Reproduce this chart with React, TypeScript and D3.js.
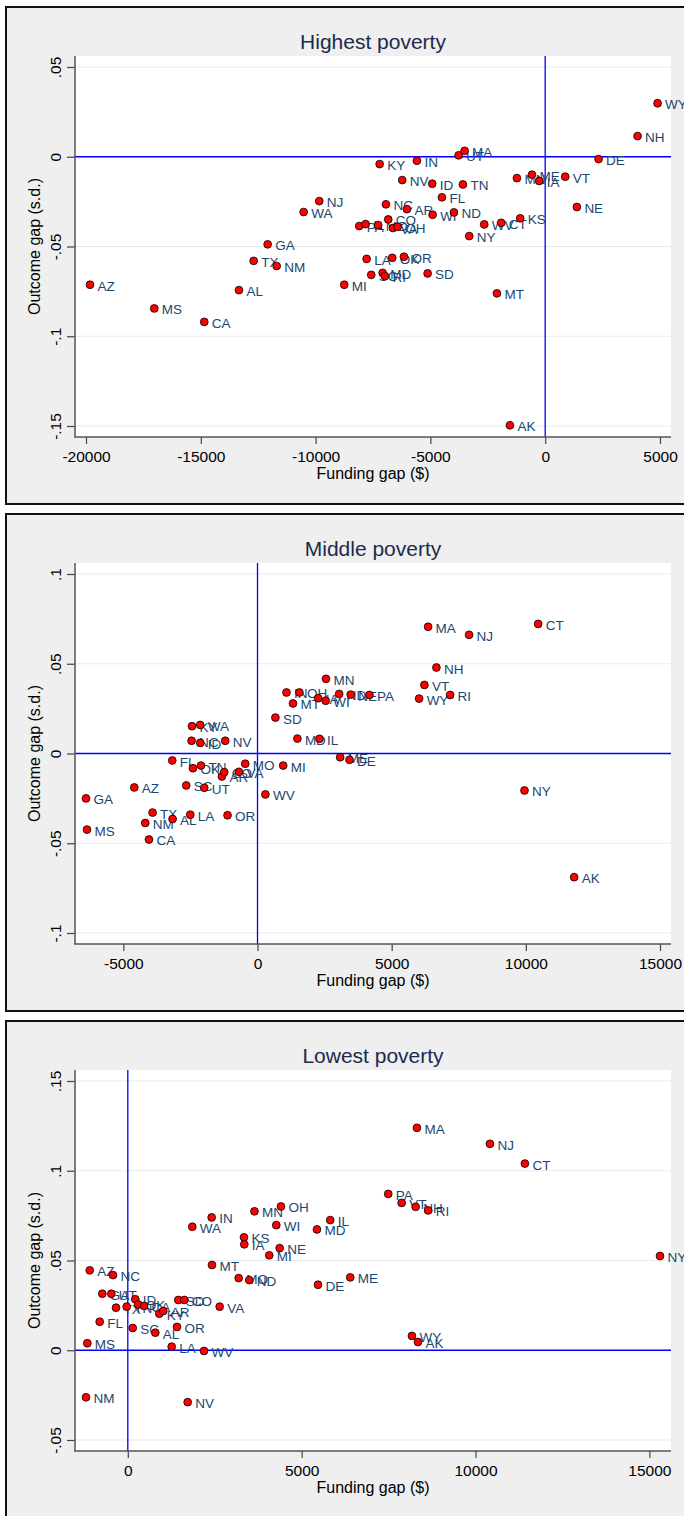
import React, { useEffect, useRef } from 'react';
import * as d3 from 'd3';

// Highest poverty panel
const highStates = ['AZ', 'MS', 'CA', 'AL', 'TX', 'GA', 'NM', 'WA', 'NJ', 'MI', 'PA', 'IL', 'LA', 'SC', 'MO', 'KY', 'MD', 'RI', 'NC', 'CO', 'OK', 'VA', 'OH', 'NV', 'OR', 'AR', 'IN', 'SD', 'ID', 'WI', 'FL', 'ND', 'UT', 'TN', 'MA', 'NY', 'WV', 'MT', 'CT', 'AK', 'MN', 'KS', 'ME', 'IA', 'VT', 'NE', 'DE', 'NH', 'WY'];
const highFunding = [-19826, -17026, -14849, -13338, -12697, -12088, -11696, -10520, -9841, -8752, -8099, -7821, -7777, -7577, -7272, -7211, -7080, -6980, -6937, -6836, -6662, -6632, -6427, -6227, -6153, -6022, -5587, -5121, -4920, -4903, -4498, -3976, -3771, -3584, -3510, -3309, -2656, -2103, -1916, -1537, -1232, -1089, -579, -261, 871, 1380, 2325, 4023, 4894];
const highOutcome = [-0.0713, -0.0845, -0.092, -0.0743, -0.058, -0.0488, -0.0609, -0.0308, -0.0247, -0.0713, -0.0386, -0.0375, -0.0569, -0.0658, -0.0381, -0.0041, -0.0647, -0.0665, -0.0265, -0.0349, -0.0563, -0.0397, -0.039, -0.013, -0.0557, -0.0292, -0.0022, -0.065, -0.015, -0.0323, -0.0226, -0.031, 0.0008, -0.0154, 0.0033, -0.0442, -0.0377, -0.0761, -0.0368, -0.1496, -0.0119, -0.0343, -0.01, -0.0135, -0.0111, -0.028, -0.0013, 0.0115, 0.0298];
const highXTicks = [-20000, -15000, -10000, -5000, 0, 5000];
const highYTicks = [0.05, 0, -0.05, -0.1, -0.15];

// Middle poverty panel
const midStates = ['GA', 'MS', 'AZ', 'NM', 'CA', 'TX', 'FL', 'AL', 'SC', 'LA', 'NC', 'KY', 'OK', 'WA', 'ID', 'TN', 'UT', 'AR', 'CO', 'NV', 'OR', 'VA', 'MO', 'WV', 'SD', 'MI', 'IN', 'MT', 'MD', 'OH', 'IA', 'IL', 'WI', 'MN', 'ND', 'ME', 'DE', 'NE', 'PA', 'WY', 'VT', 'MA', 'NH', 'RI', 'NJ', 'NY', 'CT', 'AK'];
const midFunding = [-6392, -6355, -4593, -4183, -4045, -3911, -3177, -3166, -2656, -2507, -2458, -2443, -2406, -2134, -2134, -2108, -1985, -1326, -1240, -1203, -1117, -693, -458, 294, 667, 957, 1080, 1322, 1486, 1561, 2261, 2309, 2540, 2552, 3043, 3080, 3427, 3472, 4172, 6023, 6220, 6358, 6667, 7178, 7885, 9950, 10459, 11800];
const midOutcome = [-0.025, -0.0424, -0.0189, -0.0387, -0.0479, -0.0329, -0.0039, -0.0365, -0.0178, -0.0341, 0.0071, 0.0152, -0.0082, 0.0159, 0.0059, -0.0067, -0.0191, -0.0128, -0.0104, 0.0071, -0.0344, -0.0102, -0.0057, -0.0228, 0.02, -0.0067, 0.034, 0.0279, 0.0083, 0.034, 0.0308, 0.0082, 0.0294, 0.0416, 0.0332, -0.0021, -0.0035, 0.0328, 0.0326, 0.0306, 0.0382, 0.0706, 0.0479, 0.0326, 0.0661, -0.0206, 0.0722, -0.0689];
const midXTicks = [-5000, 0, 5000, 10000, 15000];
const midYTicks = [0.1, 0.05, 0, -0.05, -0.1];

// Lowest poverty panel
const lowStates = ['NM', 'MS', 'AZ', 'FL', 'GA', 'UT', 'NC', 'TX', 'TN', 'SC', 'ID', 'OK', 'CA', 'AL', 'KY', 'AR', 'LA', 'OR', 'SD', 'CO', 'NV', 'WA', 'WV', 'IN', 'MT', 'VA', 'MO', 'KS', 'IA', 'ND', 'MN', 'MI', 'WI', 'NE', 'OH', 'MD', 'DE', 'IL', 'ME', 'PA', 'VT', 'WY', 'NH', 'MA', 'AK', 'RI', 'NJ', 'CT', 'NY'];
const lowFunding = [-1202, -1164, -1095, -808, -733, -474, -426, -339, -32, 141, 216, 302, 466, 791, 906, 1021, 1262, 1415, 1452, 1624, 1722, 1855, 2191, 2412, 2421, 2642, 3189, 3341, 3350, 3493, 3643, 4068, 4270, 4367, 4405, 5440, 5469, 5822, 6397, 7490, 7875, 8171, 8278, 8315, 8344, 8640, 10414, 11420, 15305];
const lowOutcome = [-0.0262, 0.0039, 0.0445, 0.0159, 0.0315, 0.0315, 0.0419, 0.0237, 0.0243, 0.0124, 0.0284, 0.0255, 0.0247, 0.0098, 0.0204, 0.0219, 0.002, 0.013, 0.028, 0.028, -0.0289, 0.0688, -0.0004, 0.074, 0.0475, 0.0243, 0.0402, 0.0629, 0.059, 0.0391, 0.0774, 0.0529, 0.0697, 0.0569, 0.0801, 0.0673, 0.0365, 0.0725, 0.0406, 0.0871, 0.0821, 0.008, 0.0799, 0.1239, 0.0046, 0.0779, 0.115, 0.104, 0.0525];
const lowXTicks = [0, 5000, 10000, 15000];
const lowYTicks = [0.15, 0.1, 0.05, 0, -0.05];

const titles = ['Highest poverty', 'Middle poverty', 'Lowest poverty'];
const xTitle = 'Funding gap ($)';
const yTitle = 'Outcome gap (s.d.)';

const panels = [
    { title: titles[0], states: highStates, funding: highFunding, outcome: highOutcome, xTicks: highXTicks, yTicks: highYTicks },
    { title: titles[1], states: midStates, funding: midFunding, outcome: midOutcome, xTicks: midXTicks, yTicks: midYTicks },
    { title: titles[2], states: lowStates, funding: lowFunding, outcome: lowOutcome, xTicks: lowXTicks, yTicks: lowYTicks },
];

// stata style: .05, -.1, 0
const fmtY = (v: number) => (v === 0 ? '0' : (v < 0 ? '-' : '') + String(Math.abs(v)).replace(/^0\./, '.'));

const font = "'Liberation Sans', Arial, Helvetica, sans-serif";

export default function App() {
    const width = 684;
    const height = 1516;
    const step = 507;
    const svgRef = useRef<SVGSVGElement>(null);

    useEffect(() => {
        const svg = d3.select(svgRef.current);
        svg.selectAll('*').remove();

        const plot = { left: 75, right: 671, top: 56, bottom: 437, pad: 11 };
        const midX = (plot.left + plot.right) / 2;

        panels.forEach((p, i) => {
            const g = svg.append('g').attr('transform', `translate(0,${i * step})`);

            // graph region + frame
            g.append('rect')
                .attr('x', 6).attr('y', 7)
                .attr('width', 700).attr('height', 497)
                .attr('fill', '#efefef')
                .attr('stroke', '#111')
                .attr('stroke-width', 2);

            g.append('rect')
                .attr('x', plot.left).attr('y', plot.top)
                .attr('width', plot.right - plot.left)
                .attr('height', plot.bottom - plot.top)
                .attr('fill', '#fff');

            // Scales
            const x = d3.scaleLinear()
                .domain([Math.min(d3.min(p.funding)!, d3.min(p.xTicks)!), Math.max(d3.max(p.funding)!, d3.max(p.xTicks)!)])
                .range([plot.left + plot.pad, plot.right - plot.pad]);
            const y = d3.scaleLinear()
                .domain([Math.min(d3.min(p.outcome)!, d3.min(p.yTicks)!), Math.max(d3.max(p.outcome)!, d3.max(p.yTicks)!)])
                .range([plot.bottom - plot.pad, plot.top + plot.pad]);

            // grid
            g.append('g')
                .selectAll('line')
                .data(p.yTicks)
                .join('line')
                .attr('x1', plot.left).attr('x2', plot.right)
                .attr('y1', d => y(d)).attr('y2', d => y(d))
                .attr('stroke', '#e4ecee')
                .attr('stroke-width', 1.2);

            // reference lines at zero
            g.append('line')
                .attr('x1', x(0)).attr('x2', x(0))
                .attr('y1', plot.top).attr('y2', plot.bottom)
                .attr('stroke', '#0000ff').attr('stroke-width', 1.3);
            g.append('line')
                .attr('x1', plot.left).attr('x2', plot.right)
                .attr('y1', y(0)).attr('y2', y(0))
                .attr('stroke', '#0000ff').attr('stroke-width', 1.3);

            // Axes
            const yAxis = g.append('g')
                .attr('transform', `translate(${plot.left},0)`)
                .call(d3.axisLeft(y).tickValues(p.yTicks).tickFormat(d => fmtY(+d)).tickSize(8).tickSizeOuter(0));
            yAxis.select('.domain').remove();
            yAxis.selectAll('line').attr('stroke', '#444').attr('stroke-width', 1.2);
            yAxis.selectAll('text')
                .attr('x', 0).attr('y', -14).attr('dy', null)
                .attr('transform', 'rotate(-90)')
                .attr('text-anchor', 'middle')
                .attr('font-family', font).attr('font-size', 15.5)
                .attr('fill', '#000');

            const xAxis = g.append('g')
                .attr('transform', `translate(0,${plot.bottom})`)
                .call(d3.axisBottom(x).tickValues(p.xTicks).tickFormat(d => String(d)).tickSize(7).tickSizeOuter(0));
            xAxis.select('.domain').remove();
            xAxis.selectAll('line').attr('stroke', '#444').attr('stroke-width', 1.2);
            xAxis.selectAll('text')
                .attr('y', 25).attr('dy', null)
                .attr('font-family', font).attr('font-size', 15.5)
                .attr('fill', '#000');

            g.append('line')
                .attr('x1', plot.left).attr('x2', plot.left)
                .attr('y1', plot.top).attr('y2', plot.bottom + 0.6)
                .attr('stroke', '#555').attr('stroke-width', 1.5);
            g.append('line')
                .attr('x1', plot.left - 0.6).attr('x2', plot.right)
                .attr('y1', plot.bottom).attr('y2', plot.bottom)
                .attr('stroke', '#555').attr('stroke-width', 1.5);

            // Titles
            g.append('text')
                .attr('x', midX).attr('y', 48.5)
                .attr('text-anchor', 'middle')
                .attr('font-family', font).attr('font-size', 21)
                .attr('fill', '#1c2a4d')
                .text(p.title);
            g.append('text')
                .attr('x', midX).attr('y', 478.5)
                .attr('text-anchor', 'middle')
                .attr('font-family', font).attr('font-size', 16)
                .attr('fill', '#000')
                .text(xTitle);
            g.append('text')
                .attr('transform', `translate(40,${(plot.top + plot.bottom) / 2}) rotate(-90)`)
                .attr('text-anchor', 'middle')
                .attr('font-family', font).attr('font-size', 16)
                .attr('fill', '#000')
                .text(yTitle);

            const idx = d3.range(p.states.length);

            // Marker labels
            g.append('g')
                .selectAll('text')
                .data(idx)
                .join('text')
                .attr('x', d => x(p.funding[d]) + 7.5)
                .attr('y', d => y(p.outcome[d]) + 6)
                .attr('font-family', font).attr('font-size', 13.5)
                .attr('fill', '#1a476f')
                .text(d => p.states[d]);

            // Markers
            g.append('g')
                .selectAll('circle')
                .data(idx)
                .join('circle')
                .attr('cx', d => x(p.funding[d]))
                .attr('cy', d => y(p.outcome[d]))
                .attr('r', 3.9)
                .attr('fill', '#ff0000')
                .attr('stroke', '#000')
                .attr('stroke-width', 0.8);
        });
    }, []);

    return <>
        <svg ref={svgRef} width={width} height={height} style={{ position: 'absolute', left: 0, top: 0, background: '#fff' }}></svg>
    </>;
}
